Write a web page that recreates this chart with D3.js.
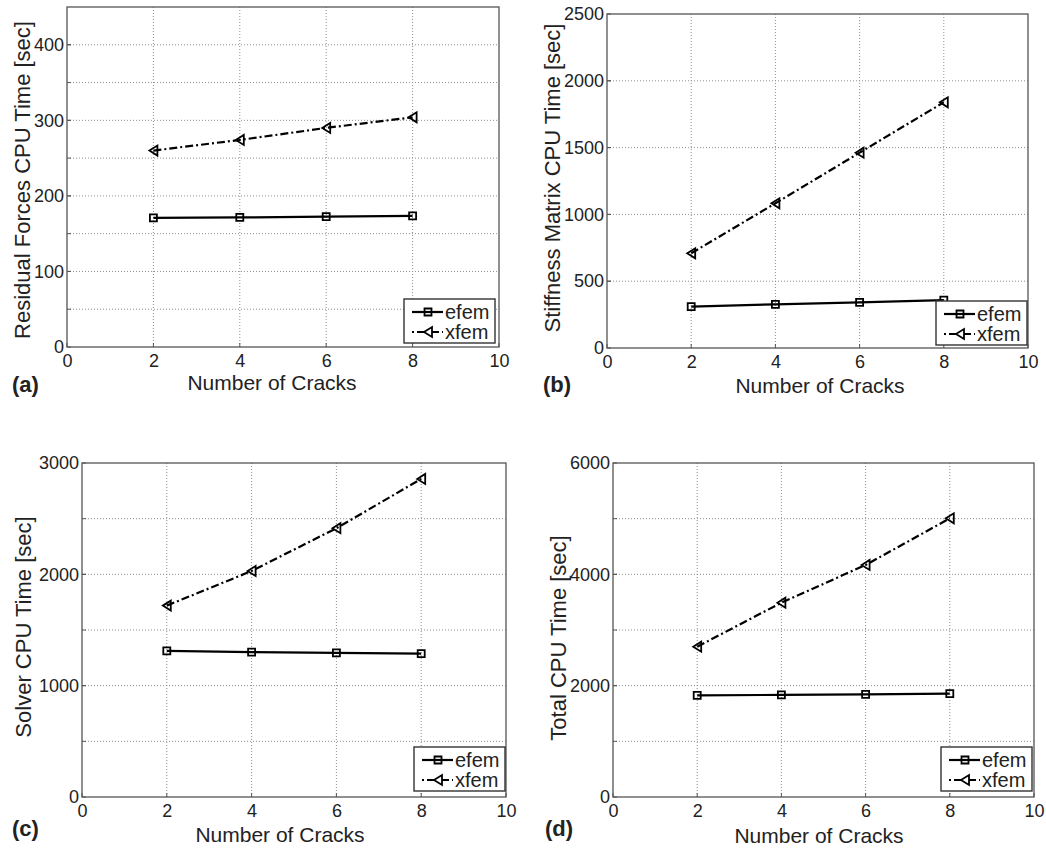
<!DOCTYPE html>
<html>
<head>
<meta charset="utf-8">
<script src="https://cdn.jsdelivr.net/npm/d3@7"></script>
<style>
  html, body { margin: 0; padding: 0; background: #fff; }
  svg { display: block; }
  text { font-family: "Liberation Sans", Arial, sans-serif; fill: #222; }
</style>
</head>
<body>
<svg id="chart" width="1046" height="848"></svg>
<script>
// ---------------- data ----------------
const crackCounts = [2, 4, 6, 8];
const xTickValues = [0, 2, 4, 6, 8, 10];

const residualEfem = [171, 171.5, 172.5, 173.5];
const residualXfem = [260, 274, 290, 304];
const stiffnessEfem = [309, 327, 342, 359];
const stiffnessXfem = [709, 1083, 1462, 1839];
const solverEfem = [1312, 1302, 1294, 1287];
const solverXfem = [1719, 2030, 2414, 2857];
const totalEfem = [1826, 1834, 1844, 1856];
const totalXfem = [2700, 3491, 4168, 5006];

const residualYTicks = [0, 100, 200, 300, 400];
const residualYGrid = [50, 100, 150, 200, 250, 300, 350, 400];
const stiffnessYTicks = [0, 500, 1000, 1500, 2000, 2500];
const stiffnessYGrid = [500, 1000, 1500, 2000];
const solverYTicks = [0, 1000, 2000, 3000];
const solverYGrid = [500, 1000, 1500, 2000, 2500];
const totalYTicks = [0, 2000, 4000, 6000];
const totalYGrid = [1000, 2000, 3000, 4000, 5000];

const seriesNames = ["efem", "xfem"];
const panelLetters = ["(a)", "(b)", "(c)", "(d)"];
const yTitles = ["Residual Forces CPU Time [sec]", "Stiffness Matrix CPU Time [sec]",
                 "Solver CPU Time [sec]", "Total CPU Time [sec]"];
const xTitle = "Number of Cracks";

// ---------------- layout ----------------
const panels = [
  { box: [67, 7, 499, 347], yMax: 450, ticks: residualYTicks, grid: residualYGrid,
    efem: residualEfem, xfem: residualXfem, yLab: [22, 180], xLab: [272, 390], letter: [12, 392], leg: [4, 4] },
  { box: [607, 14, 1028, 348], yMax: 2500, ticks: stiffnessYTicks, grid: stiffnessYGrid,
    efem: stiffnessEfem, xfem: stiffnessXfem, yLab: [552, 178], xLab: [820, 393], letter: [543, 392], leg: [1, 3] },
  { box: [82, 463, 506, 797], yMax: 3000, ticks: solverYTicks, grid: solverYGrid,
    efem: solverEfem, xfem: solverXfem, yLab: [23, 627], xLab: [280, 842], letter: [12, 836], leg: [1, 6] },
  { box: [613, 463, 1034, 797], yMax: 6000, ticks: totalYTicks, grid: totalYGrid,
    efem: totalEfem, xfem: totalXfem, yLab: [558, 638], xLab: [819, 843], letter: [545, 836], leg: [2, 6] }
];

const svg = d3.select("#chart");

function squarePath(s) { const h = s / 2; return `M${-h},${-h}H${h}V${h}H${-h}Z`; }
function triLeftPath(w, h) { return `M${-w / 2},0L${w / 2},${-h / 2}L${w / 2},${h / 2}Z`; }

panels.forEach((p, i) => {
  const [x0, y0, x1, y1] = p.box;
  const x = d3.scaleLinear().domain([0, 10]).range([x0, x1]);
  const y = d3.scaleLinear().domain([0, p.yMax]).range([y1, y0]);
  const g = svg.append("g");

  // grid
  g.selectAll(".vg").data(xTickValues.filter(v => v > 0 && v < 10)).join("line")
    .attr("x1", d => x(d)).attr("x2", d => x(d)).attr("y1", y0).attr("y2", y1)
    .attr("stroke", "#8f8f8f").attr("stroke-width", 1).attr("stroke-dasharray", "1,2");
  g.selectAll(".hg").data(p.grid).join("line")
    .attr("x1", x0).attr("x2", x1).attr("y1", d => y(d)).attr("y2", d => y(d))
    .attr("stroke", "#8f8f8f").attr("stroke-width", 1).attr("stroke-dasharray", "1,2");

  // box
  g.append("rect").attr("x", x0).attr("y", y0).attr("width", x1 - x0).attr("height", y1 - y0)
    .attr("fill", "none").attr("stroke", "#555").attr("stroke-width", 1.3);

  // axes (tick labels)
  const xAxis = d3.axisBottom(x).tickValues(xTickValues).tickSize(0).tickPadding(7).tickFormat(d3.format("d"));
  const xa = g.append("g").attr("transform", `translate(0,${y1})`).call(xAxis);
  xa.select(".domain").remove();
  xa.selectAll("text").style("font-size", "18px").attr("fill", "#222");

  const yAxis = d3.axisLeft(y).tickValues(p.ticks).tickSize(0).tickPadding(3).tickFormat(d3.format("d"));
  const ya = g.append("g").attr("transform", `translate(${x0},0)`).call(yAxis);
  ya.select(".domain").remove();
  ya.selectAll("text").style("font-size", "18px").attr("fill", "#222");

  // small inward ticks
  g.selectAll(".xt").data(xTickValues).join("line")
    .attr("x1", d => x(d)).attr("x2", d => x(d)).attr("y1", y1).attr("y2", y1 - 4)
    .attr("stroke", "#555");
  g.selectAll(".yt").data(p.grid.concat(p.ticks)).join("line")
    .attr("x1", x0).attr("x2", x0 + 4).attr("y1", d => y(d)).attr("y2", d => y(d))
    .attr("stroke", "#555");

  // lines
  const line = d3.line().x((d, j) => x(crackCounts[j])).y(d => y(d));
  g.append("path").datum(p.efem).attr("d", line).attr("fill", "none")
    .attr("stroke", "#000").attr("stroke-width", 2.2);
  g.append("path").datum(p.xfem).attr("d", line).attr("fill", "none")
    .attr("stroke", "#000").attr("stroke-width", 2.2).attr("stroke-dasharray", "8,3,2,3");

  // markers
  g.selectAll(".sq").data(p.efem).join("path")
    .attr("transform", (d, j) => `translate(${x(crackCounts[j])},${y(d)})`)
    .attr("d", squarePath(7)).attr("fill", "none").attr("stroke", "#000").attr("stroke-width", 1.8);
  g.selectAll(".tr").data(p.xfem).join("path")
    .attr("transform", (d, j) => `translate(${x(crackCounts[j])},${y(d)})`)
    .attr("d", triLeftPath(8, 10)).attr("fill", "none").attr("stroke", "#000").attr("stroke-width", 1.8);

  // legend
  const lw = 91, lh = 44;
  const lx = x1 - p.leg[0] - lw, ly = y1 - p.leg[1] - lh;
  const lg = g.append("g").attr("transform", `translate(${lx},${ly})`);
  lg.append("rect").attr("width", lw).attr("height", lh).attr("fill", "#fff")
    .attr("stroke", "#333").attr("stroke-width", 1.4);
  seriesNames.forEach((name, k) => {
    const ry = 13 + k * 20;
    lg.append("line").attr("x1", 8).attr("x2", 39).attr("y1", ry).attr("y2", ry)
      .attr("stroke", "#000").attr("stroke-width", 2.2)
      .attr("stroke-dasharray", k === 0 ? null : "2,3,7,3");
    lg.append("path").attr("transform", `translate(24,${ry})`)
      .attr("d", k === 0 ? squarePath(7) : triLeftPath(8, 10))
      .attr("fill", k === 0 ? "none" : "#fff").attr("stroke", "#000").attr("stroke-width", 1.8);
    lg.append("text").attr("x", 41).attr("y", ry).attr("dy", "0.36em")
      .style("font-size", "20px").text(name);
  });

  // axis titles
  g.append("text").attr("transform", `translate(${p.yLab[0]},${p.yLab[1]}) rotate(-90)`)
    .attr("text-anchor", "middle").attr("dy", "0.35em").style("font-size", "22px").text(yTitles[i]);
  g.append("text").attr("x", p.xLab[0]).attr("y", p.xLab[1]).attr("text-anchor", "middle")
    .style("font-size", "21px").text(xTitle);
  g.append("text").attr("x", p.letter[0]).attr("y", p.letter[1])
    .style("font-size", "22px").style("font-weight", "bold").text(panelLetters[i]);
});
</script>
</body>
</html>
